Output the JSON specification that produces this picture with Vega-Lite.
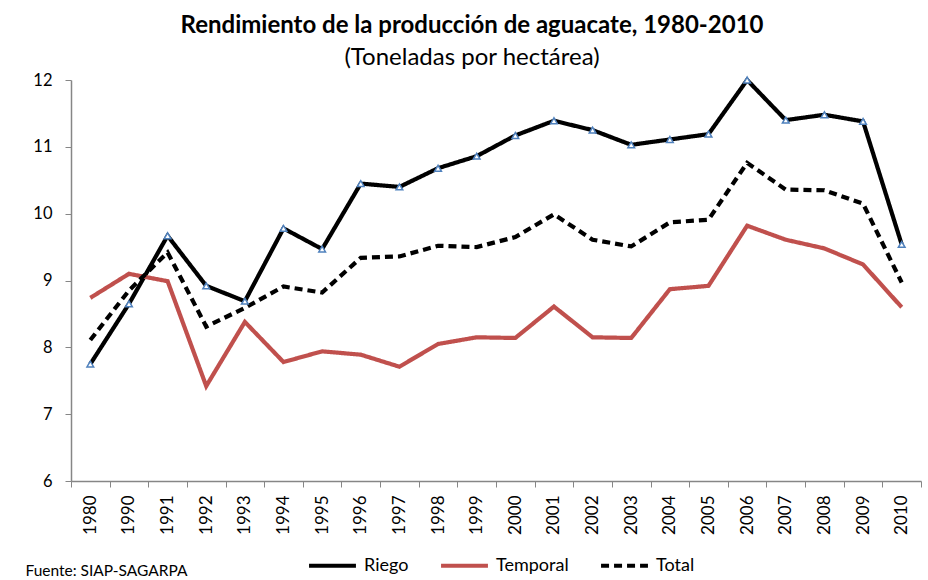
{
  "$schema": "https://vega.github.io/schema/vega-lite/v6.json",
  "width": 850,
  "height": 401,
  "autosize": {"type": "none"},
  "padding": {"left": 71, "top": 80, "right": 7, "bottom": 99},
  "background": "white",
  "config": {
    "font": "Lato",
    "view": {"stroke": null},
    "axis": {"grid": false, "domainColor": "#868686", "tickColor": "#868686", "labelColor": "#000000", "labelFont": "Lato"}
  },
  "title": {
    "text": "Rendimiento de la producción de aguacate, 1980-2010",
    "subtitle": "(Toneladas por hectárea)",
    "anchor": "middle",
    "dx": -24,
    "offset": 2,
    "font": "Lato",
    "fontSize": 24,
    "fontWeight": "bold",
    "color": "#000000",
    "subtitleFont": "Lato",
    "subtitleFontSize": 24,
    "subtitleColor": "#000000",
    "subtitlePadding": 8
  },
  "data": {
    "values": [
      {"year": "1980", "Riego": 7.75, "Temporal": 8.74, "Total": 8.11},
      {"year": "1990", "Riego": 8.65, "Temporal": 9.1, "Total": 8.85},
      {"year": "1991", "Riego": 9.67, "Temporal": 8.99, "Total": 9.42},
      {"year": "1992", "Riego": 8.92, "Temporal": 7.42, "Total": 8.31},
      {"year": "1993", "Riego": 8.69, "Temporal": 8.38, "Total": 8.59},
      {"year": "1994", "Riego": 9.78, "Temporal": 7.78, "Total": 8.91},
      {"year": "1995", "Riego": 9.47, "Temporal": 7.94, "Total": 8.82},
      {"year": "1996", "Riego": 10.45, "Temporal": 7.89, "Total": 9.34},
      {"year": "1997", "Riego": 10.4, "Temporal": 7.71, "Total": 9.36},
      {"year": "1998", "Riego": 10.68, "Temporal": 8.05, "Total": 9.52},
      {"year": "1999", "Riego": 10.86, "Temporal": 8.15, "Total": 9.5},
      {"year": "2000", "Riego": 11.17, "Temporal": 8.14, "Total": 9.65},
      {"year": "2001", "Riego": 11.39, "Temporal": 8.61, "Total": 9.99},
      {"year": "2002", "Riego": 11.25, "Temporal": 8.15, "Total": 9.61},
      {"year": "2003", "Riego": 11.03, "Temporal": 8.14, "Total": 9.51},
      {"year": "2004", "Riego": 11.11, "Temporal": 8.87, "Total": 9.87},
      {"year": "2005", "Riego": 11.19, "Temporal": 8.92, "Total": 9.91},
      {"year": "2006", "Riego": 12.0, "Temporal": 9.82, "Total": 10.76},
      {"year": "2007", "Riego": 11.4, "Temporal": 9.61, "Total": 10.36},
      {"year": "2008", "Riego": 11.48, "Temporal": 9.48, "Total": 10.35},
      {"year": "2009", "Riego": 11.38, "Temporal": 9.24, "Total": 10.15},
      {"year": "2010", "Riego": 9.54, "Temporal": 8.6, "Total": 8.97}
    ]
  },
  "transform": [{"fold": ["Riego", "Temporal", "Total"], "as": ["serie", "value"]}],
  "encoding": {
    "x": {
      "field": "year",
      "type": "ordinal",
      "sort": null,
      "scale": {"type": "band", "paddingInner": 0, "paddingOuter": 0},
      "axis": {
        "title": "Fuente: SIAP-SAGARPA",
        "titleAnchor": "start",
        "titleAlign": "left",
        "titleBaseline": "middle",
        "titleX": -46,
        "titleY": 89,
        "titleFontSize": 15.5,
        "titleFontWeight": "normal",
        "titleColor": "#000000",
        "titleFont": "Lato",
        "labelAngle": 270,
        "labelFontSize": 17,
        "labelPadding": 8,
        "tickBand": "extent",
        "tickSize": 6,
        "domainWidth": 1.5
      }
    },
    "y": {
      "field": "value",
      "type": "quantitative",
      "scale": {"domain": [6, 12], "nice": false, "zero": false},
      "axis": {
        "title": null,
        "values": [6, 7, 8, 9, 10, 11, 12],
        "labelFontSize": 16.5,
        "labelPadding": 13,
        "tickSize": 6,
        "domainWidth": 1.5
      }
    }
  },
  "layer": [
    {
      "mark": {"type": "line", "strokeWidth": 4.2, "strokeJoin": "miter"},
      "encoding": {
        "color": {
          "field": "serie",
          "type": "nominal",
          "scale": {"domain": ["Riego", "Temporal", "Total"], "range": ["#000000", "#C0504D", "#000000"]},
          "legend": {
            "title": null,
            "orient": "none",
            "direction": "horizontal",
            "legendX": 236,
            "legendY": 460,
            "symbolType": "stroke",
            "symbolSize": 2200,
            "symbolStrokeWidth": 4,
            "labelFontSize": 18,
            "labelFont": "Lato",
            "labelColor": "#000000",
            "columnPadding": 24,
            "labelOffset": 6
          }
        },
        "strokeDash": {
          "field": "serie",
          "type": "nominal",
          "scale": {"domain": ["Riego", "Temporal", "Total"], "range": [[1, 0], [1, 0], [8, 5]]},
          "legend": null
        }
      }
    },
    {
      "transform": [{"filter": "datum.serie === 'Riego'"}],
      "mark": {"type": "point", "shape": "triangle-up", "filled": true, "fill": "#FFFFFF", "stroke": "#4F81BD", "strokeWidth": 1.5, "size": 45, "opacity": 1}
    }
  ]
}
